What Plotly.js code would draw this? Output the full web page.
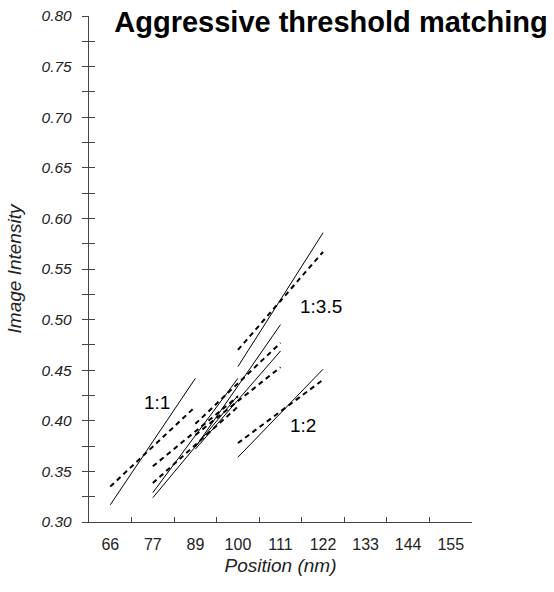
<!DOCTYPE html>
<html>
<head>
<meta charset="utf-8">
<script src="https://cdn.plot.ly/plotly-3.0.1.min.js"></script>
<style>html,body{margin:0;padding:0;background:#fff;}#chart{width:554px;height:592px;}</style>
</head>
<body>
<div id="chart"></div>
<script>
// Position bins (nm) used as x categories
const positions = ['66', '77', '89', '100', '111', '122', '133', '144', '155'];

// Each series: start/end position and image intensity (measured = solid, fit = dashed)
const ratio11X = ['66', '89'];
const ratio11Measured = [0.317, 0.442];
const ratio11Fit = [0.335, 0.414];

const groupAX = ['77', '100'];
const groupAMeasured = [0.329, 0.442];
const groupAFit = [0.355, 0.424];

const groupBX = ['77', '100'];
const groupBMeasured = [0.324, 0.425];
const groupBFit = [0.3385, 0.414];

const groupCX = ['89', '111'];
const groupCMeasured = [0.374, 0.495];
const groupCFit = [0.397, 0.477];

const groupDX = ['89', '111'];
const groupDMeasured = [0.372, 0.469];
const groupDFit = [0.386, 0.453];

const ratio35X = ['100', '122'];
const ratio35Measured = [0.4536, 0.5858];
const ratio35Fit = [0.470, 0.567];

const ratio12X = ['100', '122'];
const ratio12Measured = [0.364, 0.451];
const ratio12Fit = [0.378, 0.4405];

const seriesList = [
  [ratio11X, ratio11Measured, ratio11Fit],
  [groupAX, groupAMeasured, groupAFit],
  [groupBX, groupBMeasured, groupBFit],
  [groupCX, groupCMeasured, groupCFit],
  [groupDX, groupDMeasured, groupDFit],
  [ratio35X, ratio35Measured, ratio35Fit],
  [ratio12X, ratio12Measured, ratio12Fit]
];

const traces = [];
seriesList.forEach(([xs, meas, fit]) => {
  traces.push({x: xs, y: fit, type: 'scatter', mode: 'lines', showlegend: false, hoverinfo: 'skip',
    line: {color: '#000', width: 2, dash: '5px,4px'}});
  traces.push({x: xs, y: meas, type: 'scatter', mode: 'lines', showlegend: false, hoverinfo: 'skip',
    line: {color: '#000', width: 1}});
});

const FONT = 'Liberation Sans, Arial, sans-serif';
const layout = {
  width: 554, height: 592,
  margin: {l: 89, r: 82, t: 16, b: 70, pad: 0},
  paper_bgcolor: '#fff', plot_bgcolor: '#fff',
  showlegend: false,
  title: {
    text: '<b>Aggressive threshold matching</b>',
    font: {family: FONT, size: 29, color: '#000'},
    xref: 'paper', x: 0.632, xanchor: 'center',
    yref: 'container', y: 0.98, yanchor: 'top'
  },
  xaxis: {
    type: 'category',
    categoryorder: 'array', categoryarray: positions,
    tickmode: 'array', tickvals: positions, ticktext: positions,
    range: [-0.5, 8.5],
    tickson: 'boundaries',
    ticks: 'inside', ticklen: 5, tickwidth: 1, tickcolor: '#444',
    showline: true, linecolor: '#444', linewidth: 1.2,
    showgrid: false, zeroline: false,
    ticklabelstandoff: 8,
    tickfont: {family: FONT, size: 16, color: '#222'},
    title: {text: 'Position (nm)', standoff: 6,
      font: {family: FONT, size: 19, color: '#222', style: 'italic'}},
    fixedrange: true
  },
  yaxis: {
    range: [0.3, 0.8],
    tickmode: 'linear', tick0: 0.3, dtick: 0.05, tickformat: '.2f',
    ticks: 'outside', ticklen: 6, tickwidth: 1, tickcolor: '#444',
    minor: {dtick: 0.025, tick0: 0.3, ticks: 'outside', ticklen: 6, tickwidth: 1, tickcolor: '#444', showgrid: false},
    showline: true, linecolor: '#444', linewidth: 1.2,
    showgrid: false, zeroline: false,
    ticklabelstandoff: 7,
    tickfont: {family: FONT, size: 15.5, color: '#222', style: 'italic'},
    title: {text: 'Image Intensity', standoff: 14,
      font: {family: FONT, size: 19, color: '#222', style: 'italic'}},
    fixedrange: true
  },
  yaxis2: {
    overlaying: 'y', matches: 'y', side: 'left',
    range: [0.3, 0.8],
    tickmode: 'linear', tick0: 0.3, dtick: 0.025,
    ticks: 'inside', ticklen: 6, tickwidth: 1, tickcolor: '#444',
    showticklabels: false, showline: false, showgrid: false, zeroline: false,
    fixedrange: true
  },
  annotations: [
    {text: '1:1', x: 1.09, y: 0.4177, xref: 'x', yref: 'y', showarrow: false,
      font: {family: FONT, size: 19, color: '#000'}},
    {text: '1:3.5', x: 4.956, y: 0.5125, xref: 'x', yref: 'y', showarrow: false,
      font: {family: FONT, size: 19, color: '#000'}},
    {text: '1:2', x: 4.52, y: 0.3955, xref: 'x', yref: 'y', showarrow: false,
      font: {family: FONT, size: 19, color: '#000'}}
  ]
};

// empty trace that activates the secondary y axis tick marks (no visible marks)
traces.push({x: [], y: [], yaxis: 'y2', type: 'scatter', mode: 'lines', showlegend: false, hoverinfo: 'skip'});

Plotly.newPlot('chart', traces, layout, {displayModeBar: false, staticPlot: true});
</script>
</body>
</html>
